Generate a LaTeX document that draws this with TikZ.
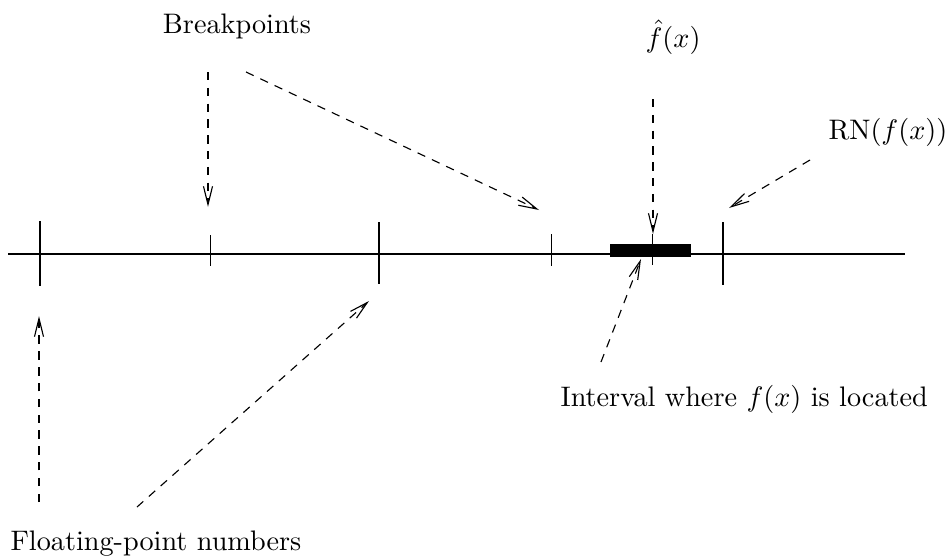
\documentclass[tikz,border=0pt]{standalone}
\usepackage{tikz}
\usetikzlibrary{arrows.meta}

\begin{document}
\begin{tikzpicture}[
      x=0.3543pt,y=-0.3543pt,
      label/.style={inner sep=0pt,font=\normalsize},
      axis/.style={line width=0.55pt,black},
      bigtick/.style={line width=0.6pt,black},
      smalltick/.style={line width=0.35pt,black},
      arr/.style={-{Straight Barb[length=6.5pt,width=3.2pt]},line width=0.4pt,
                  dash pattern=on 3pt off 2.6pt}]
    \useasboundingbox (0,0) rectangle (949,559);
    % the number line
    \coordinate (left)  at (8,254);
    \coordinate (right) at (905,254);
    \draw[axis] (left) -- (right);
    \fill[black] (610,244) rectangle (691,257);
    % floating-point numbers
    \draw[bigtick] (40,221)  -- (40,286);
    \draw[bigtick] (379,222) -- (379,284);
    \draw[bigtick] (723,222) -- (723,285);
    % breakpoints
    \draw[smalltick] (210,235) -- (210,266);
    \draw[smalltick] (551,234) -- (551,266);
    \draw[smalltick] (652,234) -- (652,265);
    % labels
    \node[label,anchor=base] (bp) at (237,34) {Breakpoints};
    \node[label,anchor=base] (fh) at (673,47) {$\hat{f}(x)$};
    \node[label,anchor=base west] (rn) at (828,140) {RN$(f(x))$};
    \node[label,anchor=base west] (iv) at (560,406) {Interval where $f(x)$ is located};
    \node[label,anchor=base west] (fp) at (10,550) {Floating-point numbers};
    % arrow ends
    \coordinate (bpa) at (208,72);   \coordinate (bpa') at (208,207);
    \coordinate (bpb) at (246,72);   \coordinate (bpb') at (539,210);
    \coordinate (fha) at (653,99);   \coordinate (fha') at (653,234);
    \coordinate (rna) at (810,160);  \coordinate (rna') at (729,208);
    \coordinate (iva) at (601,362);  \coordinate (iva') at (641,259);
    \coordinate (fpa) at (39,502);   \coordinate (fpa') at (39,316);
    \coordinate (fpb) at (137,507);  \coordinate (fpb') at (369,301);
    \draw[arr] (bpa) -- (bpa');
    \draw[arr] (bpb) -- (bpb');
    \draw[arr] (fha) -- (fha');
    \draw[arr] (rna) -- (rna');
    \draw[arr] (iva) -- (iva');
    \draw[arr] (fpa) -- (fpa');
    \draw[arr] (fpb) -- (fpb');
\end{tikzpicture}
\end{document}
